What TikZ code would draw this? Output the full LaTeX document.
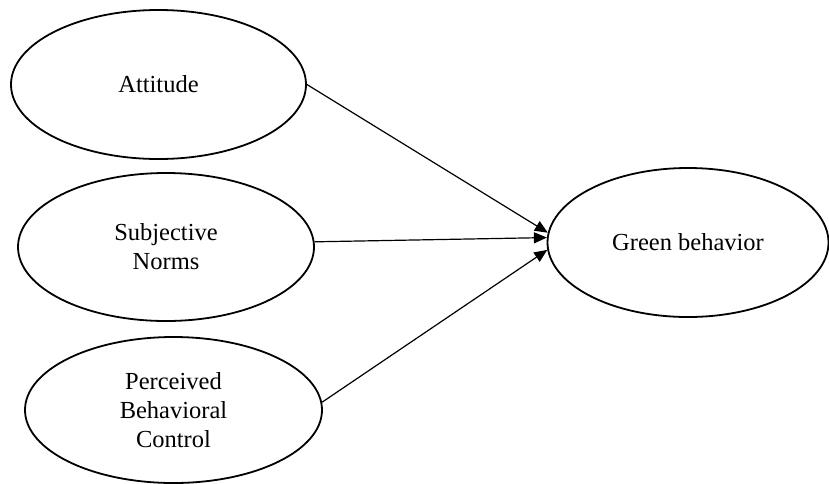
\documentclass[tikz,border=0pt]{standalone}
\usepackage{fontspec}
\setmainfont{Liberation Serif}
\usetikzlibrary{shapes.geometric,arrows.meta}
\begin{document}
\begin{tikzpicture}[x=1pt,y=-1pt,
  oval/.style={draw,ellipse,line width=1.8pt,inner sep=0pt,align=center,
    font=\fontsize{24.5}{29}\selectfont},
  link/.style={line width=1.2pt,-{Triangle[length=13pt,width=11pt]}}]
\useasboundingbox (0,0) rectangle (829,483);
\node[oval,minimum width=295,minimum height=149] (att) at (158.5,84.5) {Attitude};
\node[oval,minimum width=296,minimum height=148] (sn) at (166,247) {Subjective\\Norms};
\node[oval,minimum width=297,minimum height=146] (pbc) at (173.5,410) {Perceived\\Behavioral\\Control};
\node[oval,minimum width=281,minimum height=149] (gb) at (688,242.5) {Green behavior};
\draw[link] (att.east) -- (gb.176);
\draw[link] (sn.2) -- (gb.178);
\draw[link] (pbc.3) -- (gb.183);
\end{tikzpicture}
\end{document}
